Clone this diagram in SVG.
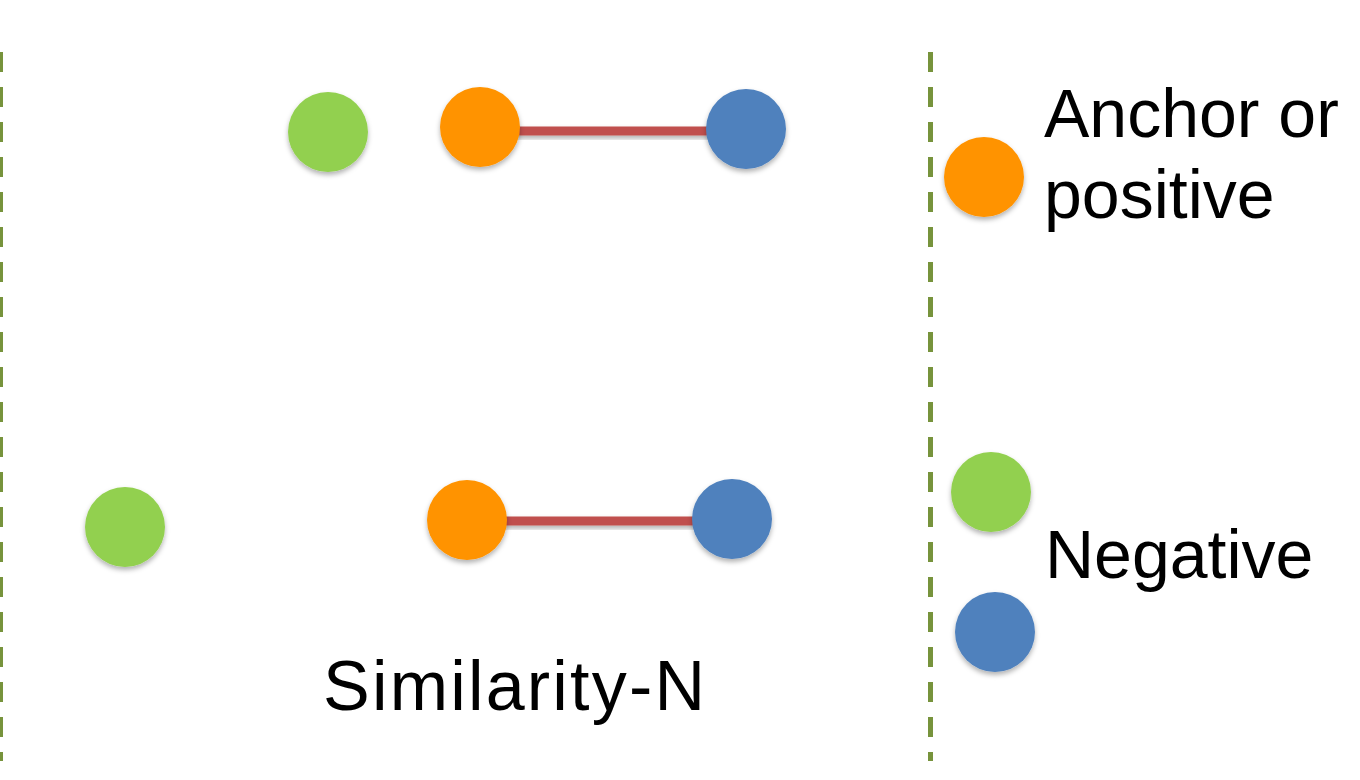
<svg xmlns="http://www.w3.org/2000/svg" width="1360" height="780" viewBox="0 0 1360 780">
  <style>
    .divider { stroke: #77933c; stroke-width: 5; stroke-dasharray: 20 15; fill: none; }
    .link { fill: #c0504d; filter: url(#shadow); }
    .anchor { fill: #ff9300; filter: url(#shadow); }
    .neg-g { fill: #92d050; filter: url(#shadow); }
    .neg-b { fill: #4f81bd; filter: url(#shadow); }
    .label { font-family: "Liberation Sans", Arial, sans-serif; font-size: 68px; fill: #000; }
  </style>
  <defs>
    <filter id="shadow" x="-30%" y="-50%" width="160%" height="200%">
      <feDropShadow dx="0" dy="3" stdDeviation="2.5" flood-color="#000" flood-opacity="0.3"/>
    </filter>
  </defs>
  <rect width="1360" height="780" fill="#ffffff"/>

  <g id="dividers">
    <line class="divider" x1="0.5" y1="52" x2="0.5" y2="761"/>
    <line class="divider" x1="930.5" y1="52" x2="930.5" y2="761"/>
  </g>

  <g id="connectors">
    <rect class="link" x="480" y="126.5" width="266" height="9"/>
    <rect class="link" x="467" y="516.5" width="265" height="9"/>
  </g>

  <g id="top-green"><circle class="neg-g" cx="328" cy="132" r="40"/></g>
  <g id="top-orange"><circle class="anchor" cx="480" cy="127" r="40"/></g>
  <g id="top-blue"><circle class="neg-b" cx="746" cy="129" r="40"/></g>

  <g id="bottom-green"><circle class="neg-g" cx="125" cy="527" r="40"/></g>
  <g id="bottom-orange"><circle class="anchor" cx="467" cy="520" r="40"/></g>
  <g id="bottom-blue"><circle class="neg-b" cx="732" cy="519" r="40"/></g>

  <g id="caption">
    <text class="label" x="323" y="710" font-size="70" style="font-size:70px" letter-spacing="2.2">Similarity-N</text>
  </g>

  <g id="legend-anchor">
    <circle class="anchor" cx="984" cy="177" r="40"/>
    <text class="label" x="1044" y="137">Anchor or</text>
    <text class="label" x="1044" y="218">positive</text>
  </g>

  <g id="legend-negative">
    <circle class="neg-g" cx="991" cy="492" r="40"/>
    <circle class="neg-b" cx="995" cy="632" r="40"/>
    <text class="label" x="1045" y="578">Negative</text>
  </g>
</svg>
